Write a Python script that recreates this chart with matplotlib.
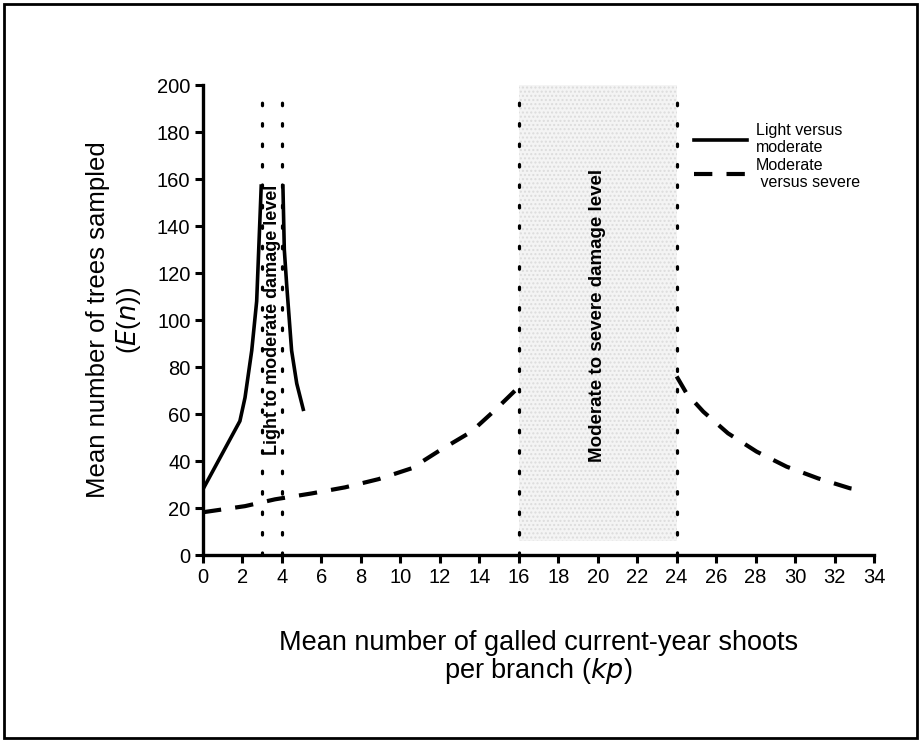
import numpy as np
import matplotlib.pyplot as plt
from matplotlib.lines import Line2D
from matplotlib.patches import Rectangle

plt.rcParams['font.family'] = ['Liberation Sans', 'DejaVu Sans']

# light versus moderate (solid), two branches either side of the 3-4 band
light_x1 = [0.0, 1.87, 2.13, 2.47, 2.72, 2.89, 2.95]
light_y1 = [28, 57, 67, 87, 108, 144, 157]
light_x2 = [4.05, 4.12, 4.24, 4.49, 4.75, 5.08]
light_y2 = [157, 130, 115, 87, 73, 62]

# moderate versus severe (dashed)
mod_x1 = [0.0, 2.13, 3.65, 5.5, 7.2, 8.9, 10.57, 11.9, 13.6, 14.8, 16.0]
mod_y1 = [18.2, 20.8, 23.7, 26.2, 28.8, 32.3, 36.9, 44, 52.5, 61.7, 71.5]
mod_x2 = [24.0, 24.5, 25.35, 26.6, 28.05, 29.57, 31.17, 32.78, 33.4]
mod_y2 = [76, 68.8, 61, 51.8, 44, 37.6, 32.6, 28.4, 27.6]

# damage level boundaries
bounds = [3, 4, 16, 24]

xticks = list(range(0, 35, 2))
yticks = list(range(0, 201, 20))

fig = plt.figure(figsize=(9.21, 7.42), dpi=100)
ax = fig.add_axes([0.2204, 0.252, 0.7286, 0.6334])

# outer frame round the whole figure
fig.patches.append(Rectangle((0.004, 0.005), 0.992, 0.99, transform=fig.transFigure,
                             fill=False, lw=2, edgecolor='black'))

ax.axvspan(16, 24, ymin=0.03, ymax=1, facecolor='#f4f4f4', edgecolor='#dcdcdc',
           hatch='....', lw=0, zorder=0)

for b in bounds:
    ax.plot([b, b], [0, 200], color='black', lw=2.3, ls=(0, (0.8, 5.6)),
            dash_capstyle='round', zorder=2)

ax.plot(light_x1, light_y1, color='black', lw=2.6, zorder=3)
ax.plot(light_x2, light_y2, color='black', lw=2.6, zorder=3)
ax.plot(mod_x1, mod_y1, color='black', lw=3, ls=(0, (4.4, 3.4)), zorder=3)
ax.plot(mod_x2, mod_y2, color='black', lw=3, ls=(0, (4.4, 3.4)), zorder=3)

ax.text(3.5, 100, 'Light to moderate damage level', rotation=90, ha='center',
        va='center', fontsize=13, fontweight='bold', zorder=4)
ax.text(20, 102, 'Moderate to severe damage level', rotation=90, ha='center',
        va='center', fontsize=13.5, fontweight='bold', zorder=4)

ax.set_xlim(0, 34)
ax.set_ylim(0, 200)
ax.set_xticks(xticks)
ax.set_yticks(yticks)
ax.tick_params(axis='both', labelsize=14.5, length=6, width=2.2, direction='out', pad=3)
for s in ['top', 'right']:
    ax.spines[s].set_visible(False)
for s in ['left', 'bottom']:
    ax.spines[s].set_linewidth(2.4)
ax.spines['left'].set_bounds(0, 200)

ax.set_xlabel('Mean number of galled current-year shoots\nper branch ($kp$)',
              fontsize=19.5, labelpad=31, linespacing=1.0)
ax.set_ylabel('Mean number of trees sampled\n($E$($n$))', fontsize=18.5,
              labelpad=10, linespacing=1.2)

handles = [Line2D([], [], color='black', lw=2.6),
           Line2D([], [], color='black', lw=3, ls=(0, (4.4, 3.4)))]
ax.legend(handles, ['Light versus\nmoderate', 'Moderate\n versus severe'],
          loc='upper left', bbox_to_anchor=(0.71, 0.95), frameon=False,
          fontsize=11.5, handlelength=3.3, handletextpad=0.6, labelspacing=0.15)

fig.savefig('out.png', dpi=100)
